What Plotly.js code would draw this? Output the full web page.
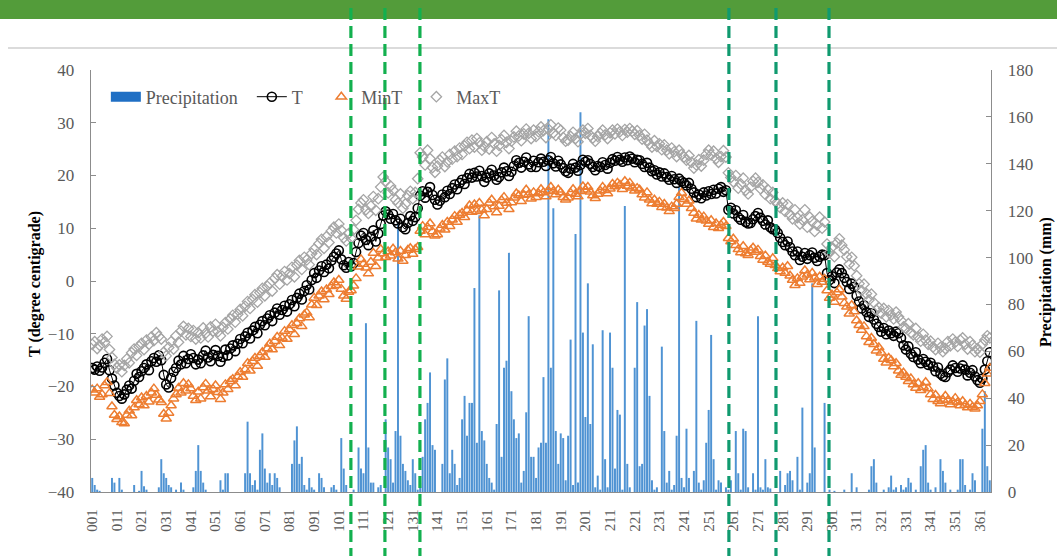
<!DOCTYPE html>
<html>
<head>
<meta charset="utf-8">
<script src="https://cdn.plot.ly/plotly-3.0.1.min.js"></script>
<style>
html,body{margin:0;padding:0;background:#fff;}
#chart{width:1057px;height:556px;}
</style>
</head>
<body>
<div id="chart"></div>
<script>
// ---- Data ----
const tickLabels = ['001','011','021','031','041','051','061','071','081','091','101','111','121','131','141','151','161','171','181','191','201','211','221','231','241','251','261','271','281','291','301','311','321','331','341','351','361'];

const meanT = [
-16.5,-16.8,-16.2,-17.0,-16.4,-15.5,-14.8,-16.9,-18.5,-19.8,
-21.2,-21.8,-22.3,-21.5,-20.6,-19.8,-20.4,-18.9,-17.6,-18.2,
-17.1,-16.5,-15.8,-16.9,-15.2,-14.6,-15.3,-14.1,-15.0,-17.8,
-19.6,-20.2,-18.4,-17.2,-16.5,-15.1,-15.8,-14.2,-15.6,-14.8,
-13.9,-14.6,-15.8,-14.9,-15.6,-14.1,-13.2,-14.5,-15.2,-14.0,
-13.1,-14.2,-15.3,-14.4,-13.0,-14.1,-12.8,-12.2,-13.3,-11.9,
-11.0,-11.8,-10.5,-9.8,-10.9,-9.4,-8.7,-9.9,-8.3,-7.6,
-8.4,-7.1,-6.5,-7.6,-6.0,-5.2,-6.4,-5.5,-4.7,-5.8,
-4.4,-3.6,-4.8,-3.2,-2.4,-3.5,-1.9,-0.8,-1.6,0.2,
1.5,0.6,2.0,2.8,1.7,3.1,2.4,3.9,4.6,5.2,
5.8,4.1,3.0,2.5,3.6,2.8,3.4,5.5,7.2,8.6,
9.1,7.8,6.8,8.4,9.6,7.5,9.0,10.8,12.4,13.2,
12.6,11.8,12.7,11.5,10.9,11.8,10.2,9.8,11.0,12.3,
11.4,12.1,13.8,16.2,17.0,15.8,16.9,17.8,16.3,15.4,
14.5,15.2,16.4,15.9,17.1,16.5,17.6,18.3,17.4,18.6,
19.2,18.4,19.5,20.3,19.6,20.5,19.8,20.9,19.9,18.8,
19.6,20.4,21.1,20.0,19.2,19.7,20.6,21.5,20.8,19.9,
20.7,21.8,22.9,22.4,21.5,22.6,23.4,22.1,21.6,22.8,
21.6,22.5,23.2,22.6,21.8,22.9,23.5,22.3,21.7,22.8,
22.1,21.4,20.8,20.5,21.3,22.2,21.5,20.9,22.0,23.0,
22.6,22.9,22.2,21.6,21.0,21.8,21.6,22.5,22.0,21.3,
22.4,23.1,22.8,23.5,23.0,22.6,23.4,22.9,23.6,23.2,
22.5,23.0,22.9,22.2,21.6,22.4,21.5,20.8,21.0,20.2,
20.6,19.8,20.4,19.7,19.2,19.9,19.3,18.6,19.4,18.9,
18.6,18.1,18.6,17.5,16.8,15.9,16.4,15.7,16.8,16.2,
17.0,16.5,17.3,16.6,17.5,17.8,16.9,17.2,13.5,13.9,
12.8,13.4,12.1,11.6,12.5,11.2,10.9,11.0,11.7,12.3,
12.9,12.0,11.4,10.7,11.5,10.2,9.8,9.7,9.1,8.2,
7.4,6.8,7.5,6.4,5.6,4.9,5.6,4.0,4.6,5.3,
4.2,4.9,5.4,4.4,3.8,4.6,5.0,4.9,1.5,0.2,
0.9,-0.4,1.6,2.2,1.5,0.6,-0.2,-1.5,-0.5,-1.1,
-2.8,-3.9,-5.2,-4.6,-5.9,-6.8,-6.1,-7.3,-8.1,-8.7,
-9.6,-8.9,-10.1,-9.4,-9.9,-10.4,-9.6,-9.9,-10.8,-12.2,
-13.0,-12.4,-13.8,-14.4,-13.5,-14.9,-15.6,-14.8,-15.3,-15.9,
-15.5,-16.2,-17.1,-16.4,-17.6,-18.0,-18.2,-17.3,-16.8,-16.0,
-16.5,-17.2,-16.6,-16.0,-16.8,-17.9,-17.4,-16.9,-18.1,-18.8,
-19.3,-18.5,-16.8,-15.2,-13.5];

const maxT = [
-12.0,-11.5,-12.8,-12.2,-11.0,-11.6,-10.5,-13.0,-14.5,-15.8,
-16.5,-15.9,-17.2,-16.0,-14.8,-15.5,-13.6,-12.9,-14.1,-12.4,
-11.8,-13.0,-11.2,-12.0,-10.6,-11.3,-9.8,-10.5,-11.0,-13.5,
-14.2,-12.6,-11.5,-12.9,-10.4,-11.6,-9.5,-8.6,-10.2,-9.0,
-10.5,-9.4,-11.0,-9.8,-10.8,-8.9,-9.9,-10.6,-8.7,-9.5,
-8.2,-9.6,-10.4,-8.8,-7.9,-9.1,-7.2,-6.5,-7.8,-6.3,
-5.4,-6.6,-4.8,-3.9,-5.2,-3.5,-2.6,-4.0,-2.2,-1.4,
-2.8,-1.0,-0.4,-1.9,0.5,1.2,-0.6,0.9,1.8,0.2,
1.4,2.6,0.8,3.0,3.9,2.2,4.5,4.0,3.1,5.2,
6.0,5.0,7.1,7.9,6.2,8.4,7.3,9.5,10.2,9.1,
10.8,9.6,8.2,7.6,9.0,8.1,9.7,11.5,13.6,14.8,
15.4,13.5,12.8,14.2,16.0,13.4,15.6,17.8,19.7,18.9,
16.7,18.0,17.2,15.4,14.8,16.5,13.8,14.6,16.2,17.0,
15.6,16.8,19.4,24.3,23.5,22.0,24.8,23.2,21.5,20.6,
21.8,22.9,23.5,21.7,22.6,24.0,23.1,24.6,23.6,25.2,
24.0,25.6,26.3,25.1,26.7,25.4,27.0,26.2,24.8,25.5,
26.4,25.0,27.2,26.0,24.6,25.7,26.8,27.6,26.3,25.1,
26.5,27.3,28.4,27.5,26.6,27.9,28.8,28.0,27.0,28.6,
27.4,28.3,29.2,28.5,27.2,28.8,29.6,28.1,27.6,29.0,
28.6,27.2,26.5,26.7,27.4,28.2,27.0,26.4,27.8,28.6,
28.0,28.9,27.6,27.1,26.5,27.4,28.0,28.6,27.7,27.0,
28.1,28.6,27.9,28.8,28.3,27.6,28.7,28.2,28.9,28.4,
27.8,28.5,27.6,26.9,27.8,26.7,26.0,25.4,26.6,25.5,
26.0,24.9,25.8,24.8,24.1,25.2,24.5,23.6,24.8,24.0,
23.5,22.9,23.8,22.5,21.4,22.0,23.0,21.8,22.9,24.0,
24.8,23.9,24.6,23.2,22.5,23.6,24.7,23.5,20.5,19.6,
18.8,20.0,17.6,18.4,19.5,17.2,16.5,17.8,18.9,19.5,
18.7,17.5,18.2,16.4,17.3,15.6,16.8,15.2,14.6,13.9,
14.8,13.2,14.5,12.6,11.8,13.5,12.0,10.8,11.6,13.5,
10.2,12.1,11.3,9.4,10.6,12.1,10.0,11.2,7.0,5.4,
6.4,4.6,7.2,8.0,6.8,5.9,4.6,3.2,4.5,2.9,
1.0,-0.5,-1.8,-0.6,-2.4,-3.6,-2.5,-4.1,-5.5,-5.0,
-6.1,-5.2,-6.8,-5.6,-6.4,-7.2,-5.9,-6.8,-7.5,-8.7,
-9.0,-8.1,-9.8,-10.2,-9.0,-10.6,-11.4,-10.1,-11.2,-12.0,
-11.4,-12.5,-13.0,-11.8,-12.6,-13.4,-12.8,-11.5,-12.3,-11.0,
-11.6,-12.4,-11.2,-10.8,-12.0,-12.9,-11.5,-12.2,-13.4,-12.8,
-13.5,-12.0,-11.2,-10.4,-10.8];

const minT = [
-20.6,-21.2,-20.4,-22.0,-21.5,-19.8,-19.2,-21.3,-23.8,-25.4,
-26.2,-25.7,-26.8,-27.0,-25.4,-24.6,-25.5,-24.0,-22.6,-23.4,
-22.1,-23.6,-21.8,-22.9,-21.2,-20.4,-21.6,-22.5,-23.0,-25.2,
-26.1,-25.0,-23.6,-22.3,-21.5,-20.3,-21.2,-19.4,-20.8,-19.6,
-20.4,-21.8,-22.6,-21.0,-22.3,-20.2,-19.5,-20.8,-21.9,-20.5,
-19.8,-21.1,-22.4,-21.2,-19.6,-20.5,-19.0,-18.6,-19.8,-18.1,
-17.3,-18.2,-16.8,-15.6,-17.0,-15.2,-14.6,-16.1,-14.2,-13.5,
-14.4,-12.8,-11.9,-13.0,-11.4,-10.6,-12.2,-10.8,-9.5,-11.0,
-9.2,-8.4,-10.1,-8.0,-7.1,-8.6,-6.4,-6.0,-6.9,-4.5,
-3.2,-4.6,-2.8,-2.0,-3.5,-1.6,-2.5,-1.0,-0.3,-0.8,
0.2,-1.5,-2.8,-3.4,-2.1,-1.8,-0.9,0.5,2.7,4.1,
3.2,2.5,1.4,3.6,5.3,2.8,4.4,6.0,5.2,4.5,
5.6,4.8,6.1,5.4,4.2,5.7,3.8,4.9,5.9,6.2,
5.1,6.0,6.4,9.5,10.4,8.8,10.2,10.9,9.4,8.6,
8.8,9.9,10.6,9.7,11.2,10.4,11.6,12.3,11.2,12.5,
12.9,12.1,13.4,14.3,13.1,14.5,13.2,14.8,13.5,12.4,
13.6,14.8,15.4,14.1,13.0,14.2,15.3,15.9,14.8,13.6,
14.9,15.8,16.6,16.2,15.1,16.3,17.3,16.4,15.6,16.8,
15.9,16.6,17.4,16.8,16.0,17.1,17.8,17.0,16.4,17.3,
16.8,15.9,15.4,15.8,16.7,17.4,16.5,16.0,17.0,17.9,
17.3,17.8,16.9,16.2,15.7,16.5,17.1,17.8,17.2,16.6,
17.5,18.4,17.9,18.6,18.2,17.4,18.9,18.0,18.6,17.7,
17.1,17.6,17.3,16.4,15.8,16.8,15.4,14.7,15.4,14.6,
15.0,14.0,14.6,13.9,13.2,14.1,13.8,14.6,15.9,16.7,
15.5,14.6,15.2,13.8,12.9,11.8,12.5,11.6,12.2,11.4,
10.8,11.5,10.2,10.9,10.0,10.6,11.2,10.4,8.1,7.5,
8.0,6.8,6.0,5.4,6.6,5.2,4.9,5.8,6.3,5.5,
5.9,4.7,4.0,4.8,3.6,3.2,4.3,3.0,2.4,1.8,
2.5,1.5,2.8,1.0,0.2,-0.8,0.5,-0.4,0.8,2.0,
1.2,0.3,1.5,0.6,-0.6,0.8,-0.2,0.4,-1.8,-3.2,
-2.6,-4.0,-2.2,-1.6,-3.0,-4.2,-4.9,-6.2,-4.6,-5.8,
-7.5,-8.4,-9.3,-8.6,-10.5,-11.6,-10.8,-12.0,-13.2,-12.6,
-13.6,-14.8,-15.5,-14.6,-15.0,-16.2,-15.6,-17.0,-17.8,-17.4,
-18.2,-19.0,-18.5,-19.6,-20.3,-19.4,-20.7,-20.1,-19.2,-20.4,
-21.5,-22.4,-21.6,-22.8,-23.2,-22.5,-21.8,-22.6,-23.4,-22.9,
-22.2,-23.0,-23.6,-22.8,-23.5,-24.0,-23.3,-23.9,-24.2,-23.6,
-22.8,-21.5,-19.4,-17.6,-16.5];

const precip = [
6,3,1,0.5,0,0,0,0,6,4,
0,6,1,0,0,0,0,3,0,0.5,
9,2.5,1,0,0,0,0,2,14,8,
6,3,2,0,1,0,4,1,0,0,
0,2,9,20,9,4,1,0,0,0,
0,0,5,1,8,8,0,0,0,0,
0,0,8,30,8,3,5,1,18,25,
10,4,8,3,8,6,2,0,0,0,
0,12,22,28,12,15,3,1,6,2,
1,0,8,6,2,0,0,2,3,1,
0,23,10,3,0,0,1,0,19,10,
8,72,19,4,4,0,2,3,0,31,
19,14,4,26,115,24,12,9,5,3,
14,8,1,4,15,31,38,51,20,18,
0,0,12,48,57,8,18,12,3,6,
31,41,24,38,38,87,21,118,26,22,
12,6,4,1,29,86,15,53,56,102,
43,31,23,25,4,9,34,75,15,15,
6,19,21,49,21,159,53,121,26,12,
25,23,5,24,65,3,110,4,162,68,
32,89,29,63,2,7,1,69,14,2,
68,53,10,35,33,1,122,12,2,0,
53,81,11,12,71,78,41,5,1,2,
0,62,26,4,9,1,3,24,130,6,
2,27,6,0,9,73,4,1,5,21,
35,67,14,1,5,4,0,2,1,5,
0,26,8,1,27,26,2,0,8,1,
75,2,1,14,2,1.5,0,0,0,9,
0,3,8,9,5,0,15,1,36,0,
4,8,89,19,0,0,0,38,0,1,
0,0.5,0,0,0,1,0,0,8,0,
2,0,0,0,0,1,11,14,4,0,
0,1,0,2,7,1,2,0,3,1,
2,6,4,0,1,0,11,18,20,4,
1,0,2,0,14,9,4,0,1,0,
0,1,14,14,3,0,1,8,5,0,
0,27,43,11,5];

// days of the vertical dashed event lines
const eventDays = [105.9, 119.7, 133.9, 259.2, 278.3, 299.8];
const eventColors = ['#13b04f','#13b04f','#13b04f','#109a6f','#109a6f','#109a6f'];

// ---- Build ----
const days = meanT.map((_, i) => i + 1);
const tickVals = tickLabels.map(s => parseInt(s, 10));
const FONT = '"Liberation Serif", "Times New Roman", serif';
const GRAY = '#595959';
const BLUE = '#4f93d3';
const X0 = 0.5, X1 = 365.5;
const NB = '\u00a0';

const traces = [
  // legend-only swatch for the precipitation bars (wide bar look)
  {type:'scatter', mode:'lines', x:[days[0]], y:[null], name:'Precipitation' + NB.repeat(2), yaxis:'y',
   line:{color:'#1f6fc4', width:10}, hoverinfo:'skip'},
  {type:'bar', x:days, y:precip, name:'Precipitation', yaxis:'y', showlegend:false,
   marker:{color:BLUE, line:{width:0}}},
  {type:'scatter', mode:'lines+markers', x:days, y:meanT, name:'T' + NB.repeat(3), yaxis:'y2',
   line:{color:'#000000', width:1},
   marker:{symbol:'circle-open', size:9, color:'#000000', line:{width:1.6, color:'#000000'}}},
  {type:'scatter', mode:'markers', x:days, y:minT, name:'MinT' + NB.repeat(2), yaxis:'y2',
   marker:{symbol:'triangle-up-open', size:9, color:'#ed7d31', line:{width:1.5, color:'#ed7d31'}}},
  {type:'scatter', mode:'markers', x:days, y:maxT, name:'MaxT', yaxis:'y2',
   marker:{symbol:'diamond-open', size:8, color:'#a5a5a5', line:{width:1.3, color:'#a5a5a5'}}}
];

const plotTop = 70, plotBot = 492, plotH = plotBot - plotTop;
const py = px => (plotBot - px) / plotH;            // pixel row -> paper y
const pxx = px => (px - 91) / 900;                   // pixel col -> paper x

const shapes = [
  {type:'rect', xref:'paper', yref:'paper', x0:pxx(-5), x1:pxx(1062), y0:py(19), y1:py(-5),
   fillcolor:'#539c3a', line:{width:0}, layer:'below'},
  {type:'line', xref:'paper', yref:'paper', x0:pxx(8), x1:pxx(1060), y0:py(48), y1:py(48),
   line:{color:'#cfcfcf', width:1.5}}
];
eventDays.forEach((d, i) => {
  const xp = (d - X0) / (X1 - X0);
  shapes.push({type:'line', xref:'paper', yref:'paper', x0:xp, x1:xp, y0:py(560), y1:py(4),
    line:{color:eventColors[i], width:3.2, dash:'12px,6px'}, layer:'above'});
});

const layout = {
  width:1057, height:556,
  margin:{l:91, r:66, t:70, b:64, pad:0},
  paper_bgcolor:'#ffffff', plot_bgcolor:'#ffffff',
  font:{family:FONT, color:GRAY, size:17},
  showlegend:true,
  bargap:0.2,
  legend:{orientation:'h', x:0.0165, y:py(97), xanchor:'left', yanchor:'middle',
          bgcolor:'rgba(0,0,0,0)', font:{family:FONT, size:18, color:GRAY}},
  xaxis:{type:'linear', range:[X0, X1], tickmode:'array', tickvals:tickVals, ticktext:tickLabels,
         tickangle:-90, tickfont:{family:FONT, size:15, color:GRAY}, ticks:'',
         showline:true, linecolor:'#8c8c8c', linewidth:1.3, showgrid:false, zeroline:false,
         ticklabelstandoff:10},
  yaxis:{range:[0,180], dtick:20, side:'right', showgrid:false, zeroline:false,
         showline:true, linecolor:'#8c8c8c', linewidth:1.3, ticks:'inside', ticklen:5, tickcolor:'#8c8c8c',
         tickfont:{family:FONT, size:17, color:GRAY}, ticklabelstandoff:12},
  yaxis2:{range:[-40,40], dtick:10, side:'left', overlaying:'y', showgrid:false, zeroline:false,
         showline:true, linecolor:'#8c8c8c', linewidth:1.3, ticks:'inside', ticklen:5, tickcolor:'#8c8c8c',
         tickfont:{family:FONT, size:17, color:GRAY}, ticklabelstandoff:12},
  shapes:shapes,
  annotations:[
    {text:'<b>T (degree centigrade)</b>', xref:'paper', yref:'paper', x:pxx(35), y:py(284),
     xanchor:'center', yanchor:'middle',
     showarrow:false, textangle:-90, font:{family:FONT, size:16, color:'#000000'}},
    {text:'<b>Precipitation (mm)</b>', xref:'paper', yref:'paper', x:pxx(1046), y:py(282),
     xanchor:'center', yanchor:'middle',
     showarrow:false, textangle:-90, font:{family:FONT, size:16, color:'#000000'}}
  ]
};

Plotly.newPlot('chart', traces, layout, {displayModeBar:false, staticPlot:true});
</script>
</body>
</html>
